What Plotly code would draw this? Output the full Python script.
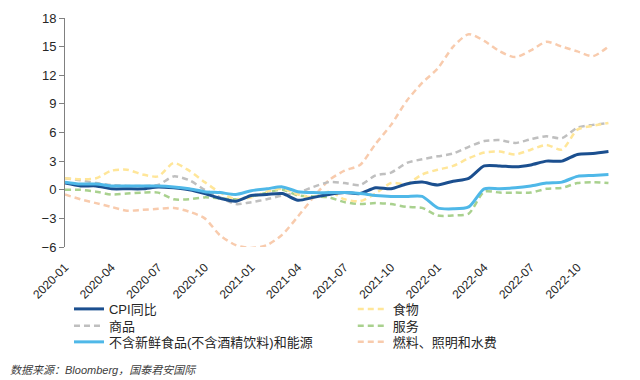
import plotly.graph_objects as go

months = [f"{y}-{m:02d}" for y in (2020, 2021, 2022) for m in range(1, 13)]

cpi = [0.7, 0.4, 0.4, 0.1, 0.1, 0.1, 0.3, 0.2, 0.0, -0.4, -0.9, -1.2,
       -0.6, -0.5, -0.4, -1.1, -0.8, -0.5, -0.3, -0.4, 0.2, 0.1, 0.6, 0.8,
       0.5, 0.9, 1.2, 2.5, 2.5, 2.4, 2.6, 3.0, 3.0, 3.7, 3.8, 4.0]
food = [1.2, 1.1, 1.2, 2.0, 2.1, 1.6, 1.4, 2.8, 2.0, 0.8, -0.3, -1.0,
        -0.8, -0.2, 0.1, -0.5, -0.8, -0.2, -1.0, -1.2, -0.4, 0.7, 0.6, 1.6,
        2.1, 2.5, 3.3, 3.9, 4.0, 3.7, 4.2, 4.7, 4.2, 6.3, 6.7, 7.0]
goods = [1.2, 1.0, 0.7, 0.5, 0.4, 0.4, 0.5, 1.4, 1.0, 0.0, -0.8, -1.5,
         -1.3, -1.0, -0.6, -0.3, 0.3, 0.8, 0.7, 0.5, 1.5, 1.8, 2.8, 3.2,
         3.5, 3.8, 4.5, 5.1, 5.2, 4.9, 5.3, 5.6, 5.4, 6.5, 6.8, 7.0]
services = [0.0, 0.0, -0.2, -0.5, -0.4, -0.3, -0.3, -1.0, -1.0, -0.8, -0.9, -1.0,
            -0.7, -0.3, 0.0, -0.6, -0.7, -0.8, -1.3, -1.5, -1.4, -1.5, -1.8, -1.9,
            -2.7, -2.7, -2.5, -0.2, -0.3, -0.3, -0.3, 0.1, 0.2, 0.7, 0.8, 0.7]
core = [0.8, 0.6, 0.6, 0.4, 0.4, 0.4, 0.4, 0.3, 0.1, -0.2, -0.3, -0.5,
        -0.1, 0.1, 0.3, -0.2, -0.3, -0.3, -0.3, -0.4, -0.6, -0.7, -0.7, -0.7,
        -1.9, -2.0, -1.8, 0.1, 0.1, 0.2, 0.4, 0.7, 0.8, 1.4, 1.5, 1.6]
fuel = [-0.5, -1.0, -1.4, -1.8, -2.2, -2.1, -2.0, -1.9, -2.3, -3.0, -4.8, -5.8,
        -6.1, -5.8, -4.7, -2.8, -0.8, 1.0, 2.0, 2.6, 4.8, 6.8, 9.3, 11.2,
        12.7, 15.0, 16.3, 15.6, 14.5, 13.9, 14.6, 15.5, 15.0, 14.5, 14.0, 15.0]

tick_labels = months[::3]
y_ticks = [-6, -3, 0, 3, 6, 9, 12, 15, 18]

FONT = "Liberation Sans, Arial, Noto Sans CJK SC, sans-serif"
DASH = "6px,4px"

series = [
    # name, data, color, width, dash, legend id
    ("燃料、照明和水费", fuel, "#F8CBAD", 2.5, DASH, "legend7"),
    ("服务", services, "#A9D18E", 2.5, DASH, "legend5"),
    ("商品", goods, "#BFBFBF", 2.5, DASH, "legend4"),
    ("食物", food, "#FFE699", 2.5, DASH, "legend3"),
    ("CPI同比", cpi, "#1B4F8F", 3, "solid", "legend2"),
    ("不含新鲜食品(不含酒精饮料)和能源", core, "#4FB8E8", 3, "solid", "legend6"),
]

fig = go.Figure()
for name, data, color, width, dash, lg in series:
    fig.add_trace(go.Scatter(
        x=months, y=data, mode="lines", name=name,
        line=dict(color=color, width=width, dash=dash, shape="spline", smoothing=0.7),
        legend=lg, showlegend=True,
    ))

def leg(x, y):
    return dict(
        x=x, y=y, xanchor="left", yanchor="top", orientation="v",
        font=dict(size=13, family=FONT, color="#262626"),
        bgcolor="rgba(0,0,0,0)", borderwidth=0,
    )

col1, col2 = 0.0073, 0.528
row1, row2, row3 = -0.205, -0.279, -0.349

# page body has an 8px default margin: figure is sized to fit the window
fig.update_layout(
    width=632, height=372,
    margin=dict(l=57, r=30, t=10, b=133, autoexpand=False),
    paper_bgcolor="white", plot_bgcolor="white",
    font=dict(family=FONT, size=12, color="#262626"),
    xaxis=dict(
        type="category", range=[0, 35.1],
        tickmode="array", tickvals=tick_labels, ticktext=tick_labels,
        tickangle=-45, showgrid=False, showline=False, zeroline=False,
        ticks="", tickfont=dict(size=12, color="#262626"),
        ticklabelstandoff=10,
    ),
    xaxis2=dict(
        overlaying="x", anchor="free", position=0.25, type="linear",
        range=[0, 35.1], tickmode="array", tickvals=list(range(0, 36, 3)),
        showticklabels=False, showline=True, linecolor="#404040", linewidth=1,
        ticks="outside", ticklen=5, tickcolor="#404040", showgrid=False, zeroline=False,
    ),
    yaxis=dict(
        range=[-6, 18], tickmode="array", tickvals=y_ticks,
        showgrid=False, zeroline=False, showline=True, linecolor="#808080",
        ticks="outside", ticklen=5, tickcolor="#808080",
        tickfont=dict(size=13, color="#262626"),
    ),
    showlegend=True,
    legend2=leg(col1, row1),
    legend3=leg(col2, row1),
    legend4=leg(col1, row2),
    legend5=leg(col2, row2),
    legend6=leg(col1, row3),
    legend7=leg(col2, row3),
    annotations=[dict(
        text="<i>数据来源：Bloomberg，国泰君安国际</i>",
        xref="paper", yref="paper", x=-0.1046, y=-0.537,
        xanchor="left", yanchor="middle", showarrow=False,
        font=dict(size=11, color="#404040", family=FONT),
    )],
)

fig.write_html("out.html")
